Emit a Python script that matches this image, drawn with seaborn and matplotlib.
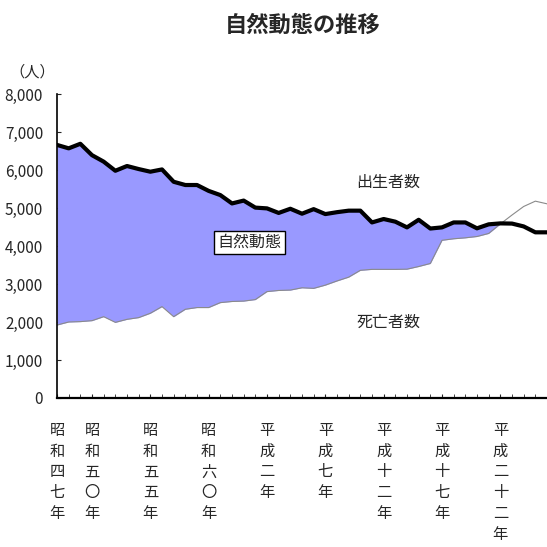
import numpy as np
import pandas as pd
import seaborn as sns
import matplotlib.pyplot as plt

years = list(range(1972, 2015))
births = [6660, 6570, 6690, 6390, 6220, 5980, 6105, 6025, 5955, 6015,
          5690, 5605, 5605, 5450, 5340, 5120, 5195, 5010, 4990, 4870,
          4980, 4850, 4970, 4840, 4890, 4930, 4930, 4620, 4710, 4640,
          4490, 4690, 4460, 4490, 4620, 4620, 4465, 4570, 4595, 4590,
          4515, 4360, 4360]
deaths = [1920, 2000, 2010, 2035, 2140, 1990, 2070, 2115, 2230, 2405,
          2140, 2335, 2380, 2380, 2510, 2540, 2550, 2590, 2800, 2830,
          2840, 2900, 2885, 2970, 3080, 3180, 3360, 3385, 3385, 3385,
          3390, 3460, 3540, 4150, 4190, 4215, 4250, 4330, 4580, 4815,
          5040, 5180, 5110]

label_years = [1972, 1975, 1980, 1985, 1990, 1995, 2000, 2005, 2010]
label_texts = ['昭和四七年', '昭和五〇年', '昭和五五年', '昭和六〇年', '平成二年',
               '平成七年', '平成十二年', '平成十七年', '平成二十二年']

df = pd.DataFrame({'year': years, 'births': births, 'deaths': deaths})

sns.set_style('white')
plt.rcParams['font.family'] = ['Noto Sans CJK JP', 'DejaVu Sans']

fig = plt.figure(figsize=(5.47, 5.47), dpi=100)
ax = fig.add_axes([57 / 547, (547 - 398) / 547, (547 - 57) / 547, (398 - 94) / 547])

b = np.array(births)
d = np.array(deaths)
ax.fill_between(df['year'], d, b, where=b >= d, interpolate=True,
                color='#9999FF', linewidth=0)
sns.lineplot(data=df, x='year', y='deaths', ax=ax, color='#8a8a8a', linewidth=0.8)
sns.lineplot(data=df, x='year', y='births', ax=ax, color='black', linewidth=3)

ax.set_xlim(1972, 2014)
ax.set_ylim(0, 8000)
ax.set_yticks(range(0, 8001, 1000))
ax.set_yticklabels([f'{v:,}' for v in range(0, 8001, 1000)], fontsize=11)
ax.set_xticks(years, minor=True)
ax.set_xticks(label_years)
ax.set_xticklabels(['\n'.join(t) for t in label_texts], fontsize=11, linespacing=1.3)
ax.tick_params(axis='y', direction='in', length=3, pad=10, left=True)
ax.tick_params(axis='x', which='both', direction='in', length=3, pad=17, bottom=True)
ax.set_xlabel('')
ax.set_ylabel('')

for s in ['top', 'right']:
    ax.spines[s].set_visible(False)
ax.spines['left'].set_color('black')
ax.spines['left'].set_linewidth(1.2)
ax.spines['bottom'].set_color('black')
ax.spines['bottom'].set_linewidth(1.6)

ax.text(2000.4, 5680, '出生者数', fontsize=11.5, ha='center', va='center')
ax.text(2000.4, 2000, '死亡者数', fontsize=11.5, ha='center', va='center')
ax.text(1988.5, 4100, '自然動態', fontsize=11.5, ha='center', va='center',
        bbox=dict(boxstyle='square,pad=0.2', facecolor='white', edgecolor='black', linewidth=1))

fig.text(303 / 547, 1 - 25 / 547, '自然動態の推移', fontsize=16, fontweight='bold',
         ha='center', va='center')
fig.text(32 / 547, 1 - 72 / 547, '（人）', fontsize=11, ha='center', va='center')

fig.savefig('out.png', dpi=100)
